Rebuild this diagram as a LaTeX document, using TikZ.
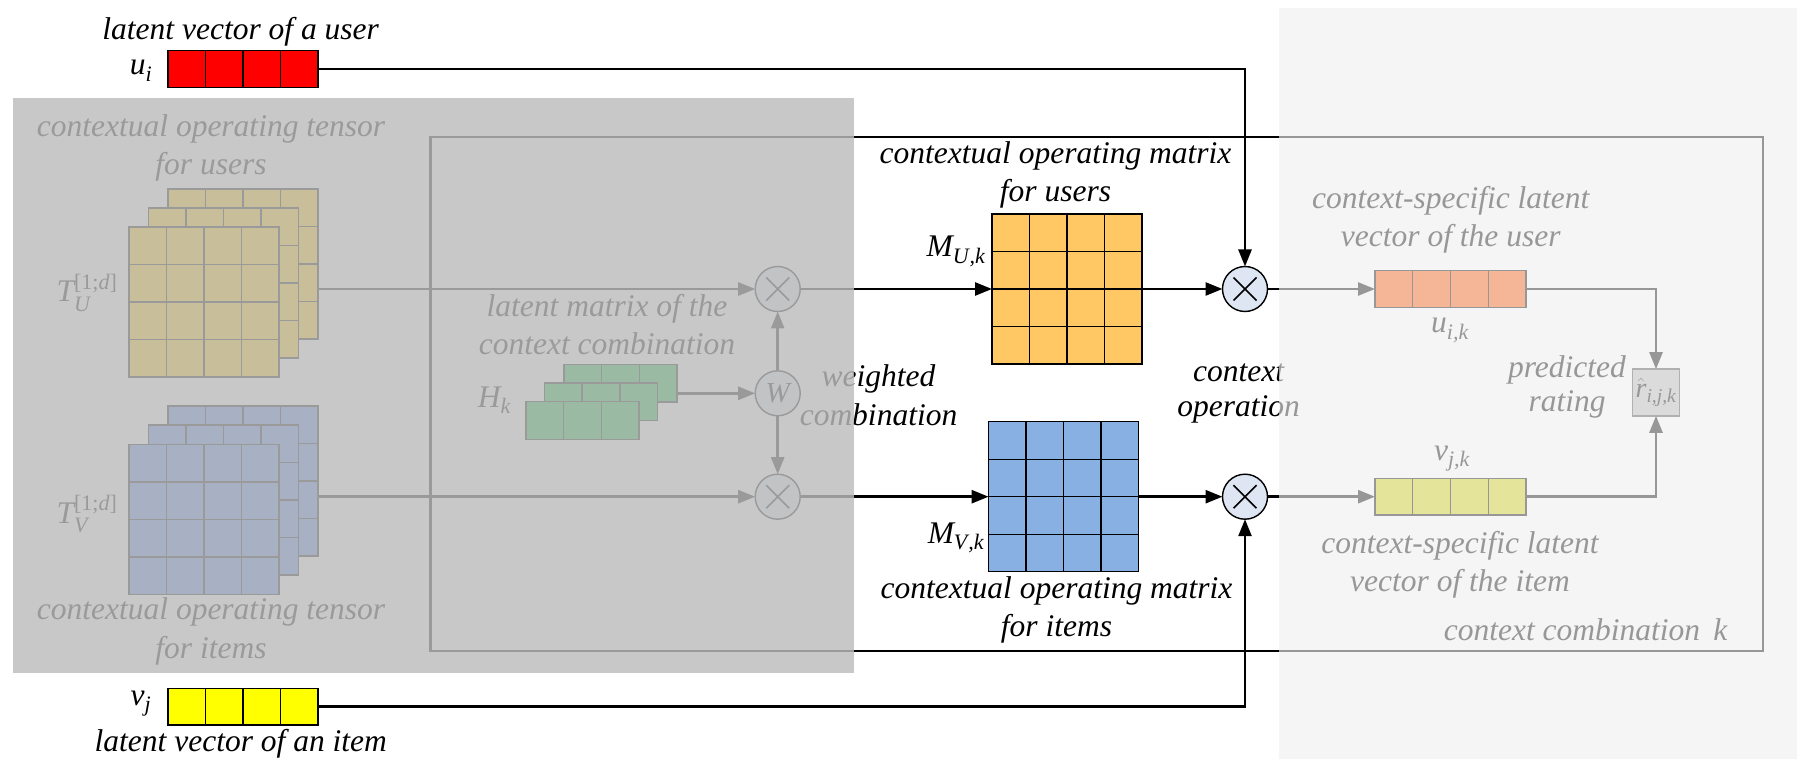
\documentclass[tikz,border=0pt]{standalone}
\usepackage{amsmath}
\usepackage{fontspec}
\setmainfont{Liberation Serif}
\usetikzlibrary{arrows.meta,calc}

% fills of the blocks (as drawn before the two translucent panels dim them)
\definecolor{redvec}{RGB}{255,0,0}
\definecolor{yellowvec}{RGB}{255,255,0}
\definecolor{tensorU}{RGB}{255,204,0}
\definecolor{tensorV}{RGB}{75,130,230}
\definecolor{hgreen}{RGB}{0,180,60}
\definecolor{matU}{RGB}{255,200,100}
\definecolor{matV}{RGB}{137,176,226}
\definecolor{opfill}{RGB}{222,230,243}
\definecolor{userctx}{RGB}{255,85,0}
\definecolor{itemctx}{RGB}{214,211,10}
\definecolor{ratefill}{RGB}{186,186,186}
\definecolor{rateedge}{RGB}{70,70,70}
\definecolor{leftveil}{RGB}{188,188,188}
\definecolor{rightveil}{RGB}{239,239,239}

% inner dividing lines of a block: node name, columns, rows
\newcommand\cellgrid[3]{%
  \foreach \gi in {1,...,#2}{\ifnum\gi<#2 \draw[cellline] ($(#1.north west)!\gi/#2!(#1.north east)$) -- ($(#1.south west)!\gi/#2!(#1.south east)$);\fi}%
  \foreach \gj in {1,...,#3}{\ifnum\gj<#3 \draw[cellline] ($(#1.north west)!\gj/#3!(#1.south west)$) -- ($(#1.north east)!\gj/#3!(#1.south east)$);\fi}%
}

\tikzset{
  lab/.style={font=\fontsize{31.5}{38.5}\selectfont\itshape, inner sep=0pt, outer sep=0pt},
  conn/.style={line width=2.6pt, -{Triangle[length=17pt,width=13pt]}},
  cellline/.style={line width=1.4pt, draw=black},
  blk/.style={draw=black, line width=1.4pt, inner sep=0pt, outer sep=0pt},
  vecbox/.style={blk, minimum width=150pt, minimum height=37.5pt},
  sqbox/.style={blk, minimum size=150pt},
  slab/.style={blk, minimum width=113.3pt, minimum height=37.7pt, fill=hgreen},
  op/.style={circle, draw=black, line width=1.4pt, fill=opfill, minimum size=45pt,
    inner sep=0pt, outer sep=0pt, font=\fontsize{29}{34}\selectfont\itshape},
  cross/.style={op, path picture={
    \draw[line width=1.6pt] (path picture bounding box.center) +(-11.5,-11.5) -- +(11.5,11.5)
      (path picture bounding box.center) +(-11.5,11.5) -- +(11.5,-11.5);}},
  framebox/.style={draw=black, line width=2.2pt, inner sep=0pt, outer sep=0pt}
}

\begin{document}
\begin{tikzpicture}[x=1pt,y=-1pt]
\useasboundingbox (0,0) rectangle (1797,759);

% frame of one context combination
\node[framebox, minimum width=1332.5pt, minimum height=514pt] (ctxframe) at (1096.75,393.7) {};

% latent vector of the user
\node[vecbox, fill=redvec] (ui) at (243,69) {};
\cellgrid{ui}{4}{1}
\node[lab, anchor=base] (uilab) at (141,75) {$\textit{u}_{\textit{i}}$};
\node[lab, anchor=base] (uitxt) at (240.7,40) {latent vector of a user};

% latent vector of the item
\node[vecbox, fill=yellowvec, minimum height=36.7pt] (vj) at (243,706.7) {};
\cellgrid{vj}{4}{1}
\node[lab, anchor=base] (vjlab) at (141,705) {$\textit{v}_{\textit{j}}$};
\node[lab, anchor=base] (vjtxt) at (240.8,751) {latent vector of an item};

% operating tensor for users (back to front)
\node[sqbox, fill=tensorU] (tu3) at (243,264) {};
\cellgrid{tu3}{4}{4}
\node[sqbox, fill=tensorU] (tu2) at (223.5,283) {};
\cellgrid{tu2}{4}{4}
\node[sqbox, fill=tensorU] (tu1) at (204,302) {};
\cellgrid{tu1}{4}{4}
\node[lab, anchor=base] (tulab) at (87,302) {$\textit{T}_{\textit{U}}^{\textup{[1;}\textit{d}\textup{]}}$};
\node[lab, anchor=base, align=center] (tutxt) at (211,175) {contextual operating tensor\\for users};

% operating tensor for items (back to front)
\node[sqbox, fill=tensorV] (tv3) at (243,481) {};
\cellgrid{tv3}{4}{4}
\node[sqbox, fill=tensorV] (tv2) at (223.5,500) {};
\cellgrid{tv2}{4}{4}
\node[sqbox, fill=tensorV] (tv1) at (204,519.3) {};
\cellgrid{tv1}{4}{4}
\node[lab, anchor=base] (tvlab) at (87,523) {$\textit{T}_{\textit{V}}^{\textup{[1;}\textit{d}\textup{]}}$};
\node[lab, anchor=base, align=center] (tvtxt) at (211,658) {contextual operating tensor\\for items};

% latent matrix of the context combination
\node[slab] (hk3) at (620.5,383.3) {};
\cellgrid{hk3}{3}{1}
\node[slab] (hk2) at (601,401.7) {};
\cellgrid{hk2}{3}{1}
\node[slab] (hk1) at (582.5,420.5) {};
\cellgrid{hk1}{3}{1}
\node[lab, anchor=base] (hklab) at (494.5,407) {$\textit{H}_{\textit{k}}$};
\node[lab, anchor=base, align=center] (hktxt) at (607,355) {latent matrix of the\\context combination};

% weighted combination
\node[cross] (xu1) at (777.7,289) {};
\node[op] (w) at (777.7,393.3) {W};
\node[cross] (xv1) at (777.7,496.7) {};
\node[lab, anchor=base, align=center] (wtxt) at (878.5,425) {weighted\\combination};

% contextual operating matrices
\node[sqbox, fill=matU] (mu) at (1067,289) {};
\cellgrid{mu}{4}{4}
\node[sqbox, fill=matV] (mv) at (1063.6,496.7) {};
\cellgrid{mv}{4}{4}
\node[lab, anchor=base] (mulab) at (956,257) {$\textit{M}_{\textit{U\kern1pt,k}}$};
\node[lab, anchor=base] (mvlab) at (956,543) {$\textit{M}_{\textit{V\kern1pt,k}}$};
\node[lab, anchor=base, align=center] (mutxt) at (1055.5,201.7) {contextual operating matrix\\for users};
\node[lab, anchor=base, align=center] (mvtxt) at (1056.5,636.7) {contextual operating matrix\\for items};

% context operation
\node[cross] (xu2) at (1245,289) {};
\node[cross] (xv2) at (1245,496.7) {};
\node[lab, anchor=base, align=center, font=\fontsize{31.5}{35}\selectfont\itshape] (optxt) at (1238.5,416.7) {context\\operation};

% context-specific latent vectors
\node[vecbox, fill=userctx, minimum width=151pt, minimum height=36.7pt] (uik) at (1450.5,289) {};
\cellgrid{uik}{4}{1}
\node[vecbox, fill=itemctx, minimum width=151pt, minimum height=36.7pt] (vjk) at (1450.5,496.7) {};
\cellgrid{vjk}{4}{1}
\node[lab, anchor=base] (uiklab) at (1450,333) {$\textit{u}_{\textit{i,k}}$};
\node[lab, anchor=base] (vjklab) at (1452,460) {$\textit{v}_{\textit{j,k}}$};
\node[lab, anchor=base, align=center] (uiktxt) at (1450.7,246.7) {context-specific latent\\vector of the user};
\node[lab, anchor=base, align=center] (vjktxt) at (1460,591.7) {context-specific latent\\vector of the item};

% predicted rating
\node[blk, draw=rateedge, fill=ratefill, minimum size=46.7pt, font=\fontsize{28}{32}\selectfont\itshape] (rate) at (1656,392.5) {$\hat{\textit{r}}_{\textit{i,j,k}}$};
\node[lab, anchor=base, align=center, font=\fontsize{31.5}{34}\selectfont\itshape] (ratetxt) at (1567,411.7) {predicted\\rating};
\node[lab, anchor=base] (ctxtxt) at (1585.6,640) {context combination\hspace{0.42em}k};

% connectors
\draw[conn] (tu3.east |- xu1) -- (xu1);
\draw[conn] (tv3.east |- xv1) -- (xv1);
\draw[conn] (hk3.east |- w) -- (w);
\draw[conn] (w) -- (xu1);
\draw[conn] (w) -- (xv1);
\draw[conn] (xu1) -- (mu);
\draw[conn] (xv1) -- (mv);
\draw[conn] (mu) -- (xu2);
\draw[conn] (mv) -- (xv2);
\draw[conn] (ui) -| (xu2);
\draw[conn] (vj) -| (xv2);
\draw[conn] (xu2) -- (uik);
\draw[conn] (xv2) -- (vjk);
\draw[conn] (uik) -| (rate);
\draw[conn] (vjk) -| (rate);

% translucent panels
\fill[leftveil, opacity=0.82] (13.4,97.7) rectangle (853.7,672.7);
\fill[rightveil, opacity=0.635] (1278.5,7.7) rectangle (1797,759);
\end{tikzpicture}
\end{document}
